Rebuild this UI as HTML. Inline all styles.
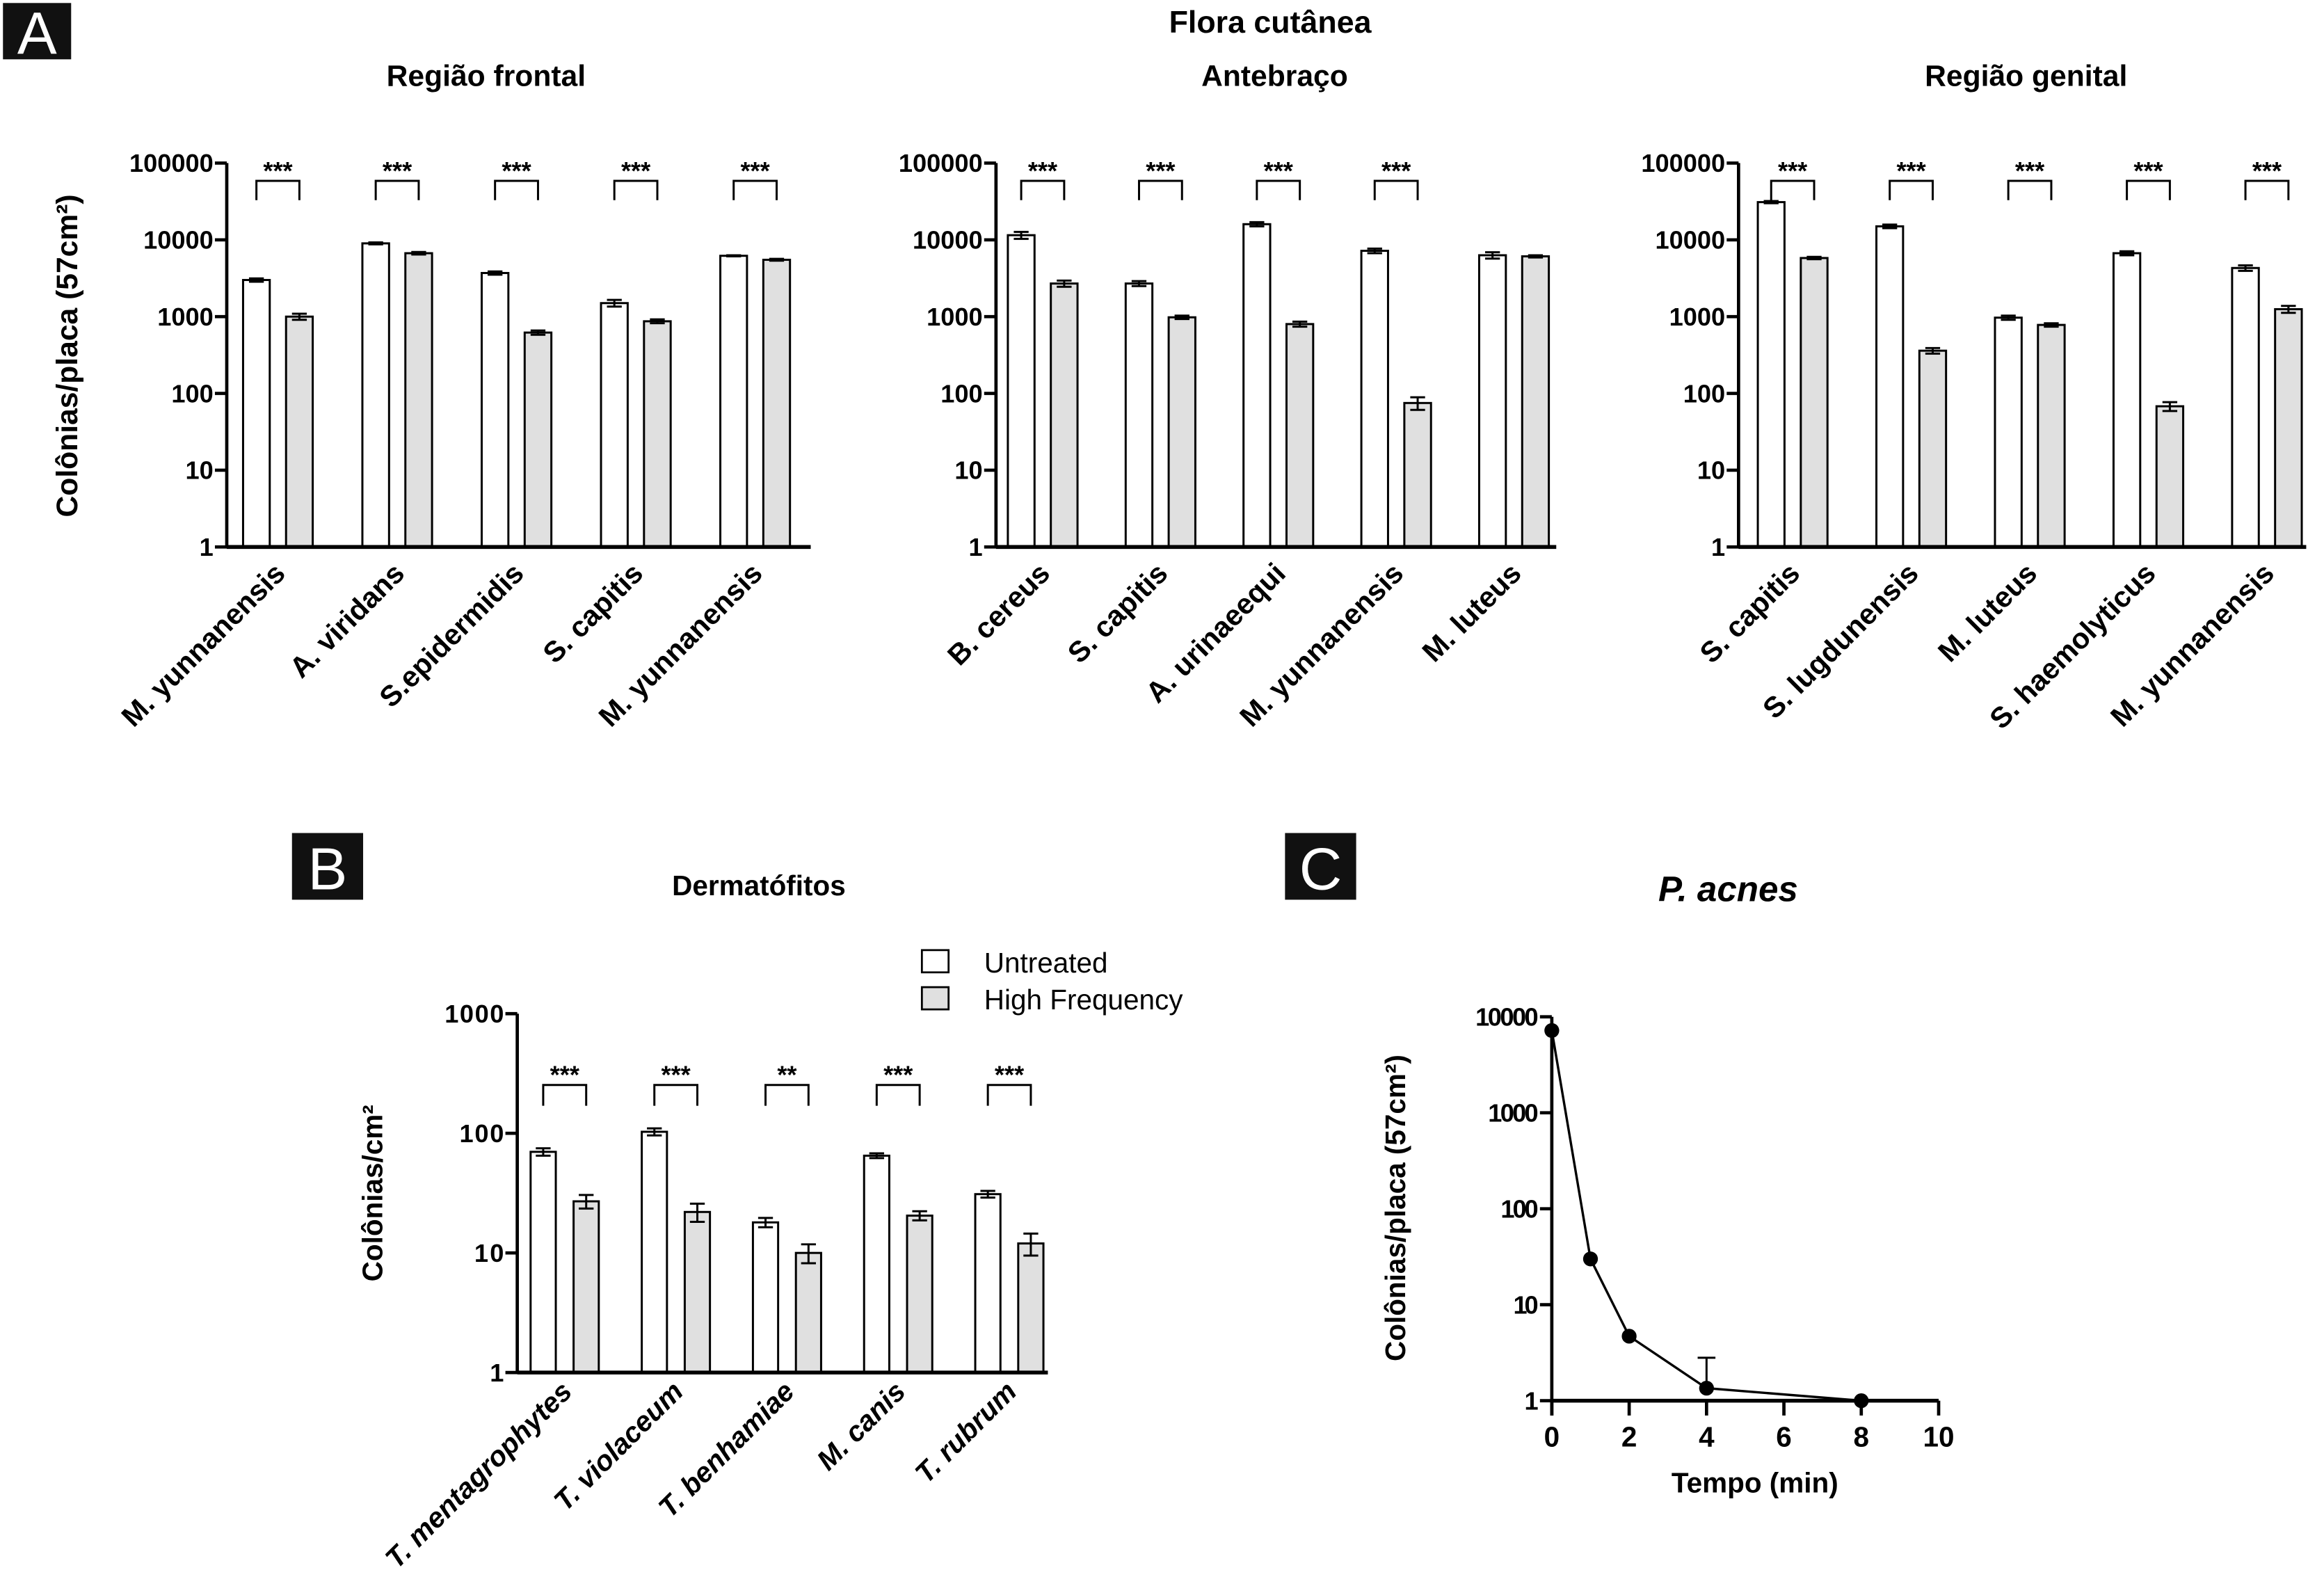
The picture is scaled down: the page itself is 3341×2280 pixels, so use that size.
<!DOCTYPE html>
<html><head><meta charset="utf-8"><style>
html,body{margin:0;padding:0;background:#fff}
svg{display:block}
text{font-family:"Liberation Sans",Arial,sans-serif}
</style></head><body>
<svg id="fig" width="3341" height="2280" viewBox="0 0 1568 1070" xmlns="http://www.w3.org/2000/svg">
<rect width="1568" height="1070" fill="#fff"/>
<text x="857" y="22" text-anchor="middle" font-size="21" font-weight="bold">Flora cutânea</text>
<rect x="2" y="2" width="46" height="38" fill="#111"/>
<text x="25" y="36" text-anchor="middle" font-size="40" fill="#fff">A</text>
<rect x="197" y="562" width="48" height="45" fill="#111"/>
<text x="221" y="600" text-anchor="middle" font-size="40" fill="#fff">B</text>
<rect x="867" y="562" width="48" height="45" fill="#111"/>
<text x="891" y="600" text-anchor="middle" font-size="40" fill="#fff">C</text>
<text transform="translate(52,240) rotate(-90)" text-anchor="middle" font-size="20" font-weight="bold">Colônias/placa (57cm²)</text>
<text x="512" y="604" text-anchor="middle" font-size="19" font-weight="bold">Dermatófitos</text>
<text transform="translate(258,805) rotate(-90)" text-anchor="middle" font-size="19" font-weight="bold">Colônias/cm²</text>
<rect x="622" y="641" width="18" height="15" fill="#fff" stroke="#000" stroke-width="1.3"/>
<text x="664" y="656" font-size="19">Untreated</text>
<rect x="622" y="666" width="18" height="15" fill="#e0e0e0" stroke="#000" stroke-width="1.3"/>
<text x="664" y="681" font-size="19">High Frequency</text>
<text x="1166" y="608" text-anchor="middle" font-size="24" font-weight="bold" font-style="italic">P. acnes</text>
<text transform="translate(948,815) rotate(-90)" text-anchor="middle" font-size="19" font-weight="bold">Colônias/placa (57cm²)</text>
<text x="1184" y="1007" text-anchor="middle" font-size="19" font-weight="bold">Tempo (min)</text>
</svg>
<script>
// Panel A1 - Região frontal
const catsA1 = ["M. yunnanensis","A. viridans","S.epidermidis","S. capitis","M. yunnanensis"];
const untreatedA1 = [3000,9000,3700,1500,6200];
const untreatedErrA1 = [150,250,180,150,100];
const highFreqA1 = [1000,6700,620,870,5500];
const highFreqErrA1 = [90,250,40,50,150];
const sigA1 = ["***","***","***","***","***"];
// Panel A2 - Antebraço
const catsA2 = ["B. cereus","S. capitis","A. urinaeequi","M. yunnanensis","M. luteus"];
const untreatedA2 = [11500,2700,16000,7200,6300];
const untreatedErrA2 = [1200,200,1000,500,600];
const highFreqA2 = [2700,980,800,75,6100];
const highFreqErrA2 = [250,50,60,14,200];
const sigA2 = ["***","***","***","***",""];
// Panel A3 - Região genital
const catsA3 = ["S. capitis","S. lugdunensis","M. luteus","S. haemolyticus","M. yunnanensis"];
const untreatedA3 = [31000,15000,970,6700,4300];
const untreatedErrA3 = [1000,800,60,400,350];
const highFreqA3 = [5800,360,780,68,1250];
const highFreqErrA3 = [200,30,40,9,130];
const sigA3 = ["***","***","***","***","***"];
const ticksA = ["1","10","100","1000","10000","100000"];
// Panel B
const catsB = ["T. mentagrophytes","T. violaceum","T. benhamiae","M. canis","T. rubrum"];
const untreatedB = [70,103,18,65,31];
const untreatedErrB = [5,7,1.6,3,2];
const highFreqB = [27,22,10,20.5,12];
const highFreqErrB = [3.5,3.8,1.8,1.8,2.5];
const sigB = ["***","***","**","***","***"];
const ticksB = ["1","10","100","1000"];
// Panel C
const timeC = [0,1,2,4,8];
const countsC = [7200,30,4.7,1.35,1.0];
const errC = [0,0,0,1.45,0];
const ticksCy = ["1","10","100","1000","10000"];
const ticksCx = ["0","2","4","6","8","10"];

const svg = document.getElementById('fig');
const NS = 'http://www.w3.org/2000/svg';
function mk(tag, attrs, parent){
  const e = document.createElementNS(NS, tag);
  for (const k in attrs) e.setAttribute(k, attrs[k]);
  (parent||svg).appendChild(e);
  return e;
}

function barPanel(p){
  const yS = v => p.bottom - Math.log10(v)*p.dec;
  const g = mk('g', {});
  
  
  if (p.title){
    const t = mk('text', {x:p.titleX, y:p.titleY, 'text-anchor':'middle','font-size':20,'font-weight':'bold'}, g);
    t.textContent = p.title;
    
    
  }
  p.ticks.forEach((lab, i) => {
    const y = p.bottom - i*p.dec;
    const tk = mk('line', {x1:p.ax-8, x2:p.ax, y1:y, y2:y, stroke:'#000','stroke-width':2.2}, g);
    
    
    const tl = mk('text', {x:p.ax-9, y:y+6, 'text-anchor':'end','font-size':p.tickFs,'font-weight':'bold', 'textLength':p.tickW ? p.tickW*lab.length : null}, g);
    if (!p.tickW) tl.removeAttribute('textLength');
    tl.textContent = lab;
    
    
  });
  const top = p.bottom - (p.ticks.length-1)*p.dec;
  p.cats.forEach((c, i) => {
    const x0 = p.start + i*p.step;
    [[p.u, p.ue, '#fff', 0, 'bar-untreated'], [p.h, p.he, '#e0e0e0', p.off, 'bar-high-frequency']].forEach(s => {
      const v = s[0][i], y = yS(v), x = x0 + s[3];
      const b = mk('rect', {x:x, y:y, width:p.bw, height:p.bottom-y, fill:s[2], stroke:'#000','stroke-width':1.4}, g);
      
      
      const e = s[1][i];
      const yt = yS(v+e), yb = yS(Math.max(v-e, 1e-6));
      const cx = x + p.bw/2;
      const eb = mk('path', {d:`M${cx-5},${yt}H${cx+5}M${cx},${yt}V${yb}M${cx-5},${yb}H${cx+5}`, stroke:'#000','stroke-width':1.4, fill:'none'}, g);
      
      
    });
    if (p.sig[i]){
      const xa = x0 + p.bw/2, xb = x0 + p.off + p.bw/2;
      const br = mk('path', {d:`M${xa},${p.brB}V${p.brT}H${xb}V${p.brB}`, stroke:'#000','stroke-width':1.4, fill:'none'}, g);
      
      
      const st = mk('text', {x:(xa+xb)/2, y:p.brT-1, 'text-anchor':'middle','font-size':p.starFs,'font-weight':'bold'}, g);
      st.textContent = p.sig[i];
      
      
    }
    const cxg = x0 + (p.off + p.bw)/2 + p.labDx;
    const cl = mk('text', {x:cxg, y:p.labY, 'text-anchor':'end','font-size':p.labFs,'font-weight':'bold','font-style':p.italic?'italic':'normal', transform:`rotate(-45 ${cxg} ${p.labY})`}, g);
    cl.textContent = c;
    
    
  });
  const ya = mk('line', {x1:p.ax, x2:p.ax, y1:top, y2:p.bottom+1, stroke:'#000','stroke-width':2.2}, g);
  
  
  const xa = mk('line', {x1:p.ax, x2:p.xEnd, y1:p.bottom, y2:p.bottom, stroke:'#000','stroke-width':2.6}, g);
  
  
}

const baseA = {bottom:369, dec:51.8, ticks:ticksA, tickFs:17, bw:18, off:29, brT:122, brB:135, starFs:17, labY:388, labDx:6, labFs:19.5, italic:false};
barPanel(Object.assign({}, baseA, {name:'chart-regiao-frontal', title:'Região frontal', titleX:328, titleY:58, ax:153, xEnd:547, start:164, step:80.5, cats:catsA1, u:untreatedA1, ue:untreatedErrA1, h:highFreqA1, he:highFreqErrA1, sig:sigA1}));
barPanel(Object.assign({}, baseA, {name:'chart-antebraco', title:'Antebraço', titleX:860, titleY:58, ax:672, xEnd:1050, start:680, step:79.5, cats:catsA2, u:untreatedA2, ue:untreatedErrA2, h:highFreqA2, he:highFreqErrA2, sig:sigA2}));
barPanel(Object.assign({}, baseA, {name:'chart-regiao-genital', title:'Região genital', titleX:1367, titleY:58, ax:1173, xEnd:1556, start:1186, step:80, cats:catsA3, u:untreatedA3, ue:untreatedErrA3, h:highFreqA3, he:highFreqErrA3, sig:sigA3}));
barPanel({name:'chart-dermatofitos', title:'', bottom:926, dec:80.7, ticks:ticksB, tickFs:17, tickW:10, bw:17, off:29, brT:732, brB:746, starFs:17, labY:940, labDx:6, labFs:19, italic:true, ax:349, xEnd:707, start:358, step:75, cats:catsB, u:untreatedB, ue:untreatedErrB, h:highFreqB, he:highFreqErrB, sig:sigB});

// Panel C
(function(){
  const ax = 1047, bottom = 945, dec = 64.75, xu = 26.1;
  const yS = v => bottom - Math.log10(v)*dec;
  const xS = t => ax + t*xu;
  const g = mk('g', {});
  
  
  ticksCy.forEach((lab, i) => {
    const y = bottom - i*dec;
    const tk = mk('line', {x1:ax-8, x2:ax, y1:y, y2:y, stroke:'#000','stroke-width':2.2}, g);
    
    
    const tl = mk('text', {x:ax-9, y:y+6, 'text-anchor':'end','font-size':17,'font-weight':'bold','textLength':8.5*lab.length}, g);
    tl.textContent = lab;
    
    
  });
  ticksCx.forEach(lab => {
    const x = xS(+lab);
    const tk = mk('line', {x1:x, x2:x, y1:bottom, y2:bottom+10, stroke:'#000','stroke-width':2.2}, g);
    
    
    const tl = mk('text', {x:x, y:bottom+31, 'text-anchor':'middle','font-size':19,'font-weight':'bold'}, g);
    tl.textContent = lab;
    
    
  });
  const ya = mk('line', {x1:ax, x2:ax, y1:bottom-4*dec, y2:bottom+10, stroke:'#000','stroke-width':2.2}, g);
  
  
  const xa = mk('line', {x1:ax, x2:xS(10), y1:bottom, y2:bottom, stroke:'#000','stroke-width':2.6}, g);
  
  
  const d = timeC.map((t, i) => (i ? 'L' : 'M') + xS(t) + ',' + yS(countsC[i])).join('');
  const ln = mk('path', {d:d, fill:'none', stroke:'#000','stroke-width':1.6}, g);
  
  
  timeC.forEach((t, i) => {
    if (errC[i] > 0){
      const x = xS(t), y1 = yS(countsC[i]), y2 = yS(countsC[i]+errC[i]);
      const eb = mk('path', {d:`M${x},${y1}V${y2}M${x-6},${y2}H${x+6}`, stroke:'#000','stroke-width':1.4, fill:'none'}, g);
      
      
    }
    const c = mk('circle', {cx:xS(t), cy:yS(countsC[i]), r:5, fill:'#000'}, g);
    
    
  });
})();
</script>
</body></html>
